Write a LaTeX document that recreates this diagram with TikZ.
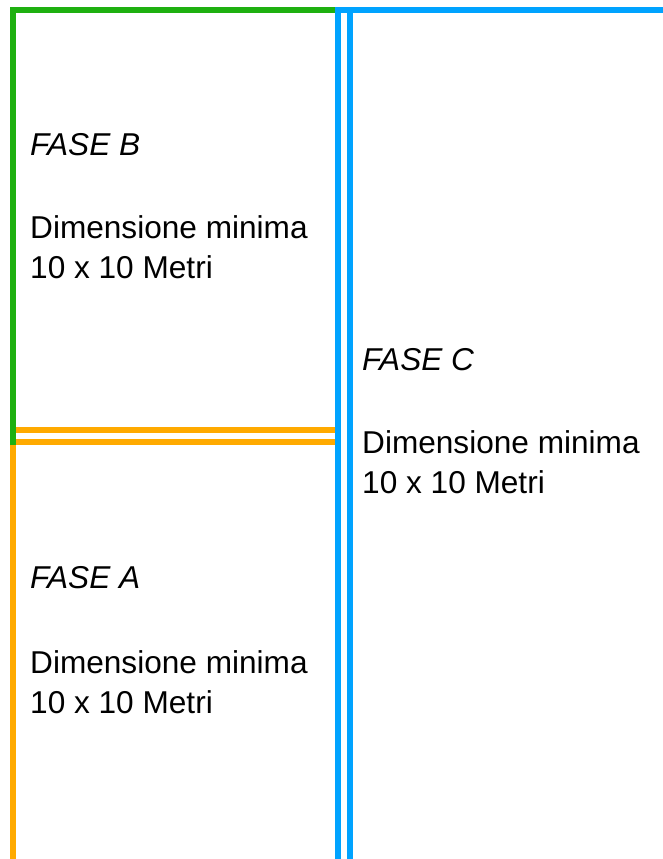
\documentclass[tikz,border=0pt]{standalone}
\usepackage{fontspec}
\setmainfont{Liberation Sans}
\usetikzlibrary{positioning}
\definecolor{faseA}{RGB}{255,170,0}
\definecolor{faseB}{RGB}{30,176,16}
\definecolor{faseC}{RGB}{0,163,255}
\tikzset{
  bordo/.style={line width=6pt, miter limit=10},
  titolo/.style={anchor=base west, inner sep=0pt, font=\fontsize{31.6}{40}\selectfont\itshape},
  testo/.style={anchor=base west, inner sep=0pt, align=left, font=\fontsize{31.6}{40}\selectfont},
}
\begin{document}
\begin{tikzpicture}[x=1pt,y=-1pt]
\useasboundingbox (0,0) rectangle (663,859);
\draw[bordo,faseA] (16,430) -- (335,430);
\draw[bordo,faseA] (16,442) -- (335,442);
\draw[bordo,faseA] (13,445) -- (13,859);
\draw[bordo,faseB] (13,445) |- (335,10);
\draw[bordo,faseC] (338,859) |- (663,10);
\draw[bordo,faseC] (350,13) -- (350,859);
% anchor base = ultima riga
\node[titolo] (titoloB) at (30,155) {FASE B};
\node[testo] (testoB) at (30,278) {Dimensione minima\\10 x 10 Metri};
\node[titolo] (titoloC) at (362,370) {FASE C};
\node[testo] (testoC) at (362,493) {Dimensione minima\\10 x 10 Metri};
\node[titolo] (titoloA) at (30,588) {FASE A};
\node[testo] (testoA) at (30,713) {Dimensione minima\\10 x 10 Metri};
\end{tikzpicture}
\end{document}
